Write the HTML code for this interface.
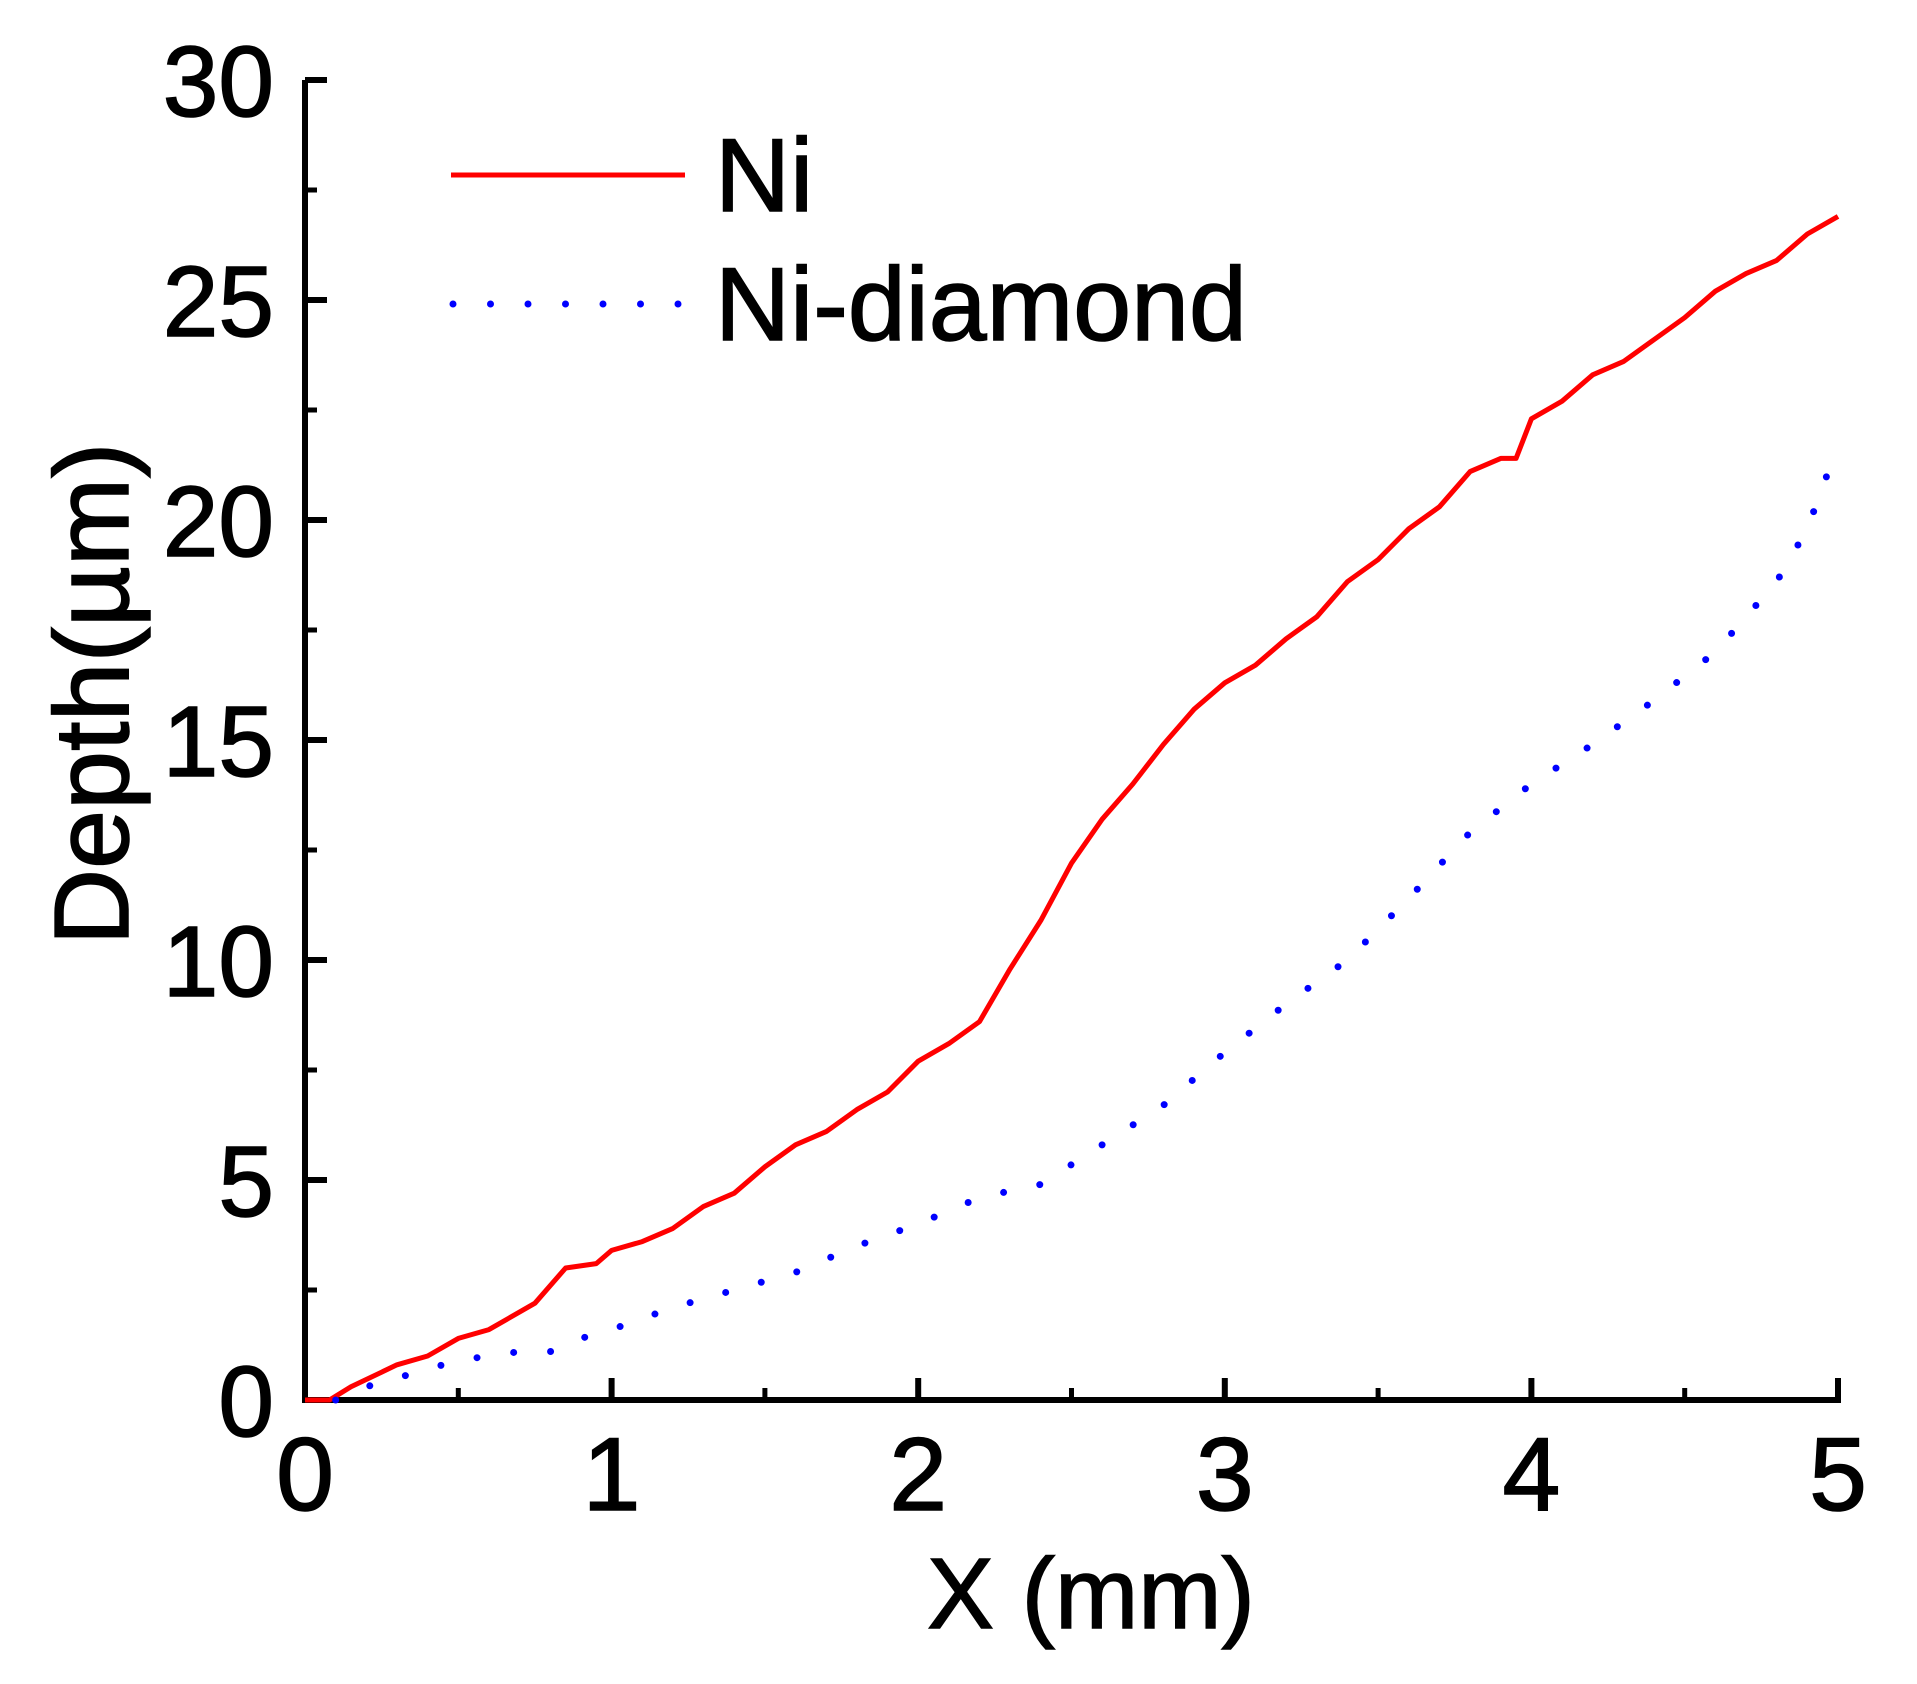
<!DOCTYPE html>
<html><head><meta charset="utf-8"><style>
html,body{margin:0;padding:0;background:#fff;}
svg text{font-family:"Liberation Sans",sans-serif;fill:#000;stroke:#000;stroke-width:1.5;}
</style></head>
<body>
<svg id="chart" width="1917" height="1679" viewBox="0 0 1917 1679" xmlns="http://www.w3.org/2000/svg">
<g id="axes"></g>
<g id="series"></g>
<g id="legend">
  <line x1="451" y1="175" x2="685" y2="175" stroke="#ff0000" stroke-width="5"/>
  <text x="715" y="211" font-size="104">Ni</text>
  <line x1="453" y1="304" x2="685" y2="304" stroke="#0000ff" stroke-width="7" stroke-linecap="round" stroke-dasharray="0 37.5"/>
  <text x="715" y="340" font-size="104">Ni-diamond</text>
</g>
<text x="1091" y="1628" font-size="100" text-anchor="middle">X (mm)</text>
<text transform="translate(128,694) rotate(-90)" font-size="106" text-anchor="middle">Depth(µm)</text>
</svg>
<script>
const xTicks = [0,1,2,3,4,5];
const yTicks = [0,5,10,15,20,25,30];
const niX = [0,0.08,0.15,0.3,0.4,0.5,0.6,0.75,0.85,0.95,1.0,1.1,1.2,1.3,1.4,1.5,1.6,1.7,1.8,1.9,2.0,2.1,2.2,2.3,2.4,2.5,2.6,2.7,2.8,2.9,3.0,3.1,3.2,3.3,3.4,3.5,3.6,3.7,3.8,3.9,3.95,4.0,4.1,4.2,4.3,4.4,4.5,4.6,4.7,4.8,4.9,5.0];
const niY = [0,0,0.3,0.8,1.0,1.4,1.6,2.2,3.0,3.1,3.4,3.6,3.9,4.4,4.7,5.3,5.8,6.1,6.6,7.0,7.7,8.1,8.6,9.8,10.9,12.2,13.2,14.0,14.9,15.7,16.3,16.7,17.3,17.8,18.6,19.1,19.8,20.3,21.1,21.4,21.4,22.3,22.7,23.3,23.6,24.1,24.6,25.2,25.6,25.9,26.5,26.9];
const ndX = [0.1,0.2,0.3,0.4,0.5,0.6,0.7,0.8,0.9,1.0,1.2,1.4,1.6,1.8,2.0,2.2,2.4,2.6,2.8,3.0,3.2,3.4,3.6,3.8,4.0,4.2,4.4,4.6,4.8,4.9,5.0];
const ndY = [0,0.3,0.5,0.7,0.9,1.0,1.1,1.1,1.4,1.6,2.1,2.5,2.9,3.5,4.0,4.6,4.9,5.8,6.7,7.9,9.0,10.0,11.4,12.9,14.0,14.9,15.9,17.0,18.6,19.8,21.7];

const X0=305, X1=1838, Y0=1400, Y1=80;
const sx = v => X0 + (v-0)/(5-0)*(X1-X0);
const sy = v => Y0 - (v-0)/(30-0)*(Y0-Y1);
const NS="http://www.w3.org/2000/svg";
const axes=document.getElementById('axes');
const series=document.getElementById('series');
function mk(tag, attrs, parent){const e=document.createElementNS(NS,tag);for(const k in attrs)e.setAttribute(k,attrs[k]);parent.appendChild(e);return e;}

const ax=mk('path',{d:`M${X0},${Y1} V${Y0} H${X1} V${Y0-22}`,fill:'none',stroke:'#000','stroke-width':6},axes);



xTicks.forEach((t,i)=>{
  const x=sx(t);
  const tk=mk('line',{x1:x,y1:Y0,x2:x,y2:Y0-22,stroke:'#000','stroke-width':6},axes);
  
  
  if(i<xTicks.length-1){
    const mx=sx(t+0.5);
    const m=mk('line',{x1:mx,y1:Y0,x2:mx,y2:Y0-12,stroke:'#000','stroke-width':5},axes);
    
    
  }
  const lb=mk('text',{x:x,y:1510,'font-size':104,'text-anchor':'middle'},axes);
  lb.textContent=t;
  
  
});
yTicks.forEach((t,i)=>{
  const y=sy(t);
  const tk=mk('line',{x1:X0,y1:y,x2:X0+22,y2:y,stroke:'#000','stroke-width':6},axes);
  
  
  if(i<yTicks.length-1){
    const my=sy(t+2.5);
    const m=mk('line',{x1:X0,y1:my,x2:X0+12,y2:my,stroke:'#000','stroke-width':5},axes);
    
    
  }
  const lb=mk('text',{x:274,y:y+36,'font-size':100,'text-anchor':'end'},axes);
  lb.textContent=t;
  
  
});

const p1=mk('polyline',{points:niX.map((v,i)=>sx(v)+','+sy(niY[i])).join(' '),fill:'none',stroke:'#ff0000','stroke-width':5,'stroke-linejoin':'round'},series);


const p2=mk('polyline',{points:ndX.map((v,i)=>sx(v)+','+sy(ndY[i])).join(' '),fill:'none',stroke:'#0000ff','stroke-width':7,'stroke-linecap':'round','stroke-dasharray':'0 37'},series);


</script>
</body></html>
